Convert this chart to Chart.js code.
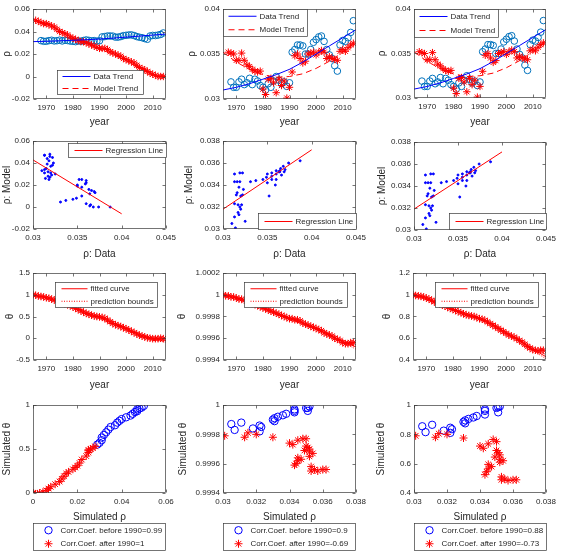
<!DOCTYPE html>
<html>
<head>
<meta charset="utf-8">
<script src="https://cdn.jsdelivr.net/npm/chart.js@4.4.1/dist/chart.umd.min.js"></script>
<style>
html, body { margin: 0; padding: 0; background: #fff; }
#fig { position: relative; width: 562px; height: 551px; overflow: hidden; background: #fff; }
#fig canvas { position: absolute; }
</style>
</head>
<body>
<div id="fig"></div>
<script>
// ---- data ----
const YEARS = [1965,1966,1967,1968,1969,1970,1971,1972,1973,1974,1975,1976,1977,1978,1979,1980,1981,1982,1983,1984,
  1985,1986,1987,1988,1989,1990,1991,1992,1993,1994,1995,1996,1997,1998,1999,2000,2001,2002,2003,2004,
  2005,2006,2007,2008,2009,2010,2011,2012,2013,2014];
const RHO_DATA = [null,null,null,0.0319,0.0313,0.0313,0.0319,0.0322,0.0316,0.0318,
  0.0323,0.0316,0.0322,0.0320,0.0315,0.0313,0.0310,0.0317,0.0313,0.0320,
  0.0325,0.0321,0.0317,0.0319,0.0314,0.0318,0.0352,0.0355,0.0360,0.0360,
  0.0359,0.0350,0.0350,0.0355,0.0363,0.0366,0.0369,0.0370,0.0364,0.0355,
  0.0349,0.0345,0.0337,0.0331,0.0360,0.0365,0.0364,0.0368,0.0374,0.0387];
const RHO_MODEL1 = [null,0.050,0.049,0.048,0.047,0.047,0.046,0.045,0.044,0.042,
  0.040,0.039,0.038,0.037,0.035,0.034,0.033,0.032,0.031,0.031,
  0.030,0.029,0.028,0.027,0.026,0.025,0.025,0.025,0.024,0.022,
  0.021,0.020,0.019,0.018,0.016,0.015,0.014,0.013,0.012,0.010,
  0.008,0.007,0.006,0.0045,0.003,0.002,0.001,0.000,0.000,0.000];
const RHO_MODEL2 = [null,null,0.0352,0.0351,0.0350,0.0343,0.0343,0.0351,0.0343,0.0338,
  0.0336,0.0333,0.0331,0.0330,0.0331,0.0311,0.0305,0.0322,0.0323,0.0318,
  0.0307,0.0322,0.0315,0.0320,0.0301,0.0313,0.0330,0.0348,0.0350,0.0345,
  0.0340,0.0342,0.0350,0.0351,0.0352,0.0349,0.0352,0.0354,0.0352,0.0345,
  0.0347,0.0345,0.0344,0.0343,0.0353,0.0355,0.0353,0.0357,0.0360,0.0362];
const THETA1 = [1.00,0.99,0.97,0.96,0.95,0.93,0.92,0.90,0.88,0.86,
  0.84,0.82,0.80,0.77,0.75,0.72,0.69,0.66,0.63,0.60,
  0.57,0.55,0.53,0.51,0.50,0.49,0.48,0.46,0.42,0.38,
  0.34,0.31,0.29,0.27,0.24,0.22,0.19,0.16,0.13,0.10,
  0.07,0.05,0.03,0.01,0.00,-0.01,-0.01,-0.01,0.00,-0.01];
const THETA2 = [1.00000,0.99999,0.99999,0.99998,0.99998,0.99997,0.99996,0.99996,0.99995,0.99994,
  0.99993,0.99992,0.99991,0.99990,0.99989,0.99988,0.99987,0.99986,0.99985,0.99984,
  0.99983,0.99982,0.99981,0.99980,0.99979,0.99978,0.99978,0.99977,0.99977,0.99976,
  0.99974,0.99973,0.99972,0.99971,0.99970,0.99969,0.99968,0.99967,0.99965,0.99964,
  0.99963,0.99962,0.99960,0.99959,0.99958,0.99956,0.99955,0.99955,0.99956,0.99956];
const THETA3 = [1.000,0.993,0.990,0.985,0.980,0.970,0.960,0.950,0.935,0.925,
  0.915,0.905,0.895,0.885,0.875,0.865,0.855,0.845,0.835,0.825,
  0.815,0.810,0.805,0.800,0.790,0.780,0.775,0.765,0.750,0.735,
  0.720,0.705,0.690,0.675,0.660,0.645,0.630,0.620,0.610,0.595,
  0.580,0.565,0.545,0.525,0.510,0.495,0.490,0.485,0.490,0.490];
const SPLIT_YEAR = 1987;

const TREND_YEARS = [1965,1970,1975,1980,1985,1990,1995,2000,2005,2010,2015];
const DATA_TREND = [0.0310,0.0313,0.0317,0.0322,0.0327,0.0333,0.0341,0.0350,0.0359,0.0368,0.0377];
const MODEL_TREND1 = [0.051,0.047,0.041,0.035,0.030,0.025,0.020,0.014,0.008,0.002,0.000];
const MODEL_TREND2 = [0.0352,0.0341,0.0333,0.0327,0.0324,0.0325,0.0328,0.0334,0.0342,0.0352,0.0363];

const FIT1 = [1.00,0.93,0.84,0.72,0.59,0.48,0.36,0.22,0.08,-0.01,-0.05];
const FIT1_LO = [0.97,0.90,0.81,0.69,0.56,0.45,0.33,0.19,0.05,-0.04,-0.09];
const FIT1_HI = [1.03,0.96,0.87,0.75,0.62,0.51,0.39,0.25,0.11,0.02,-0.01];
const FIT2 = [1.00000,0.99997,0.99993,0.99988,0.99983,0.99978,0.99974,0.99969,0.99963,0.99957,0.99952];
const FIT2_LO = [0.99999,0.99996,0.99992,0.99987,0.99982,0.99977,0.99973,0.99968,0.99962,0.99956,0.99950];
const FIT2_HI = [1.00001,0.99998,0.99994,0.99989,0.99984,0.99979,0.99975,0.99970,0.99964,0.99958,0.99954];
const FIT3 = [1.00,0.965,0.915,0.865,0.82,0.78,0.725,0.65,0.58,0.50,0.43];
const FIT3_LO = [0.99,0.955,0.905,0.855,0.81,0.77,0.715,0.64,0.57,0.49,0.41];
const FIT3_HI = [1.01,0.975,0.925,0.875,0.83,0.79,0.735,0.66,0.59,0.51,0.45];

const REG_X = [0.03, 0.04];
const REG1_Y = [0.0428, -0.0062];
const REG2_Y = [0.0318, 0.0372];
const REG3_Y = [0.0319, 0.0371];

const YEAR_TICKS = [1970, 1980, 1990, 2000, 2010];
const RHO1_TICKS = [-0.02, 0, 0.02, 0.04, 0.06];
const RHO2_TICKS = [0.03, 0.035, 0.04];
const RHO_DATA_TICKS = [0.03, 0.035, 0.04, 0.045];
const RHO_MODEL2_TICKS = [0.03, 0.032, 0.034, 0.036, 0.038];
const THETA1_TICKS = [-0.5, 0, 0.5, 1, 1.5];
const THETA2_TICKS = [0.9994, 0.9996, 0.9998, 1, 1.0002];
const THETA3_TICKS = [0.4, 0.6, 0.8, 1, 1.2];
const SIM_RHO1_TICKS = [0, 0.02, 0.04, 0.06];
const SIM_THETA1_TICKS = [0, 0.5, 1];
const SIM_THETA2_TICKS = [0.9994, 0.9996, 0.9998, 1];
const SIM_THETA3_TICKS = [0.4, 0.6, 0.8, 1];

// ---- helpers ----
const FONT = '"Liberation Sans", Arial, Helvetica, sans-serif';
const INK = '#262626';
const fmt = v => String(parseFloat(Number(v).toFixed(6)));

function pts(xs, ys, keep) {
  const out = [];
  for (let i = 0; i < xs.length; i++) {
    if (xs[i] == null || ys[i] == null) continue;
    if (keep && !keep(i)) continue;
    out.push({x: xs[i], y: ys[i]});
  }
  return out;
}
const before = i => YEARS[i] < SPLIT_YEAR;
const after = i => YEARS[i] >= SPLIT_YEAR;

function marks(label, data, style, color, r, order, filled) {
  return { label, data, showLine: false, pointStyle: style, pointRadius: r, pointHoverRadius: r,
    pointBorderColor: color, pointBorderWidth: 1,
    pointBackgroundColor: filled ? color : 'rgba(0,0,0,0)', order };
}
function line(label, data, color, dash, order) {
  return { label, data, showLine: true, pointRadius: 0, borderColor: color, borderWidth: 1,
    borderDash: dash || [], fill: false, tension: 0, order };
}

function drawMarker(ctx, style, x, y, r, color, filled) {
  ctx.strokeStyle = color; ctx.lineWidth = 1;
  ctx.beginPath();
  if (style === 'star') {
    const d = r * Math.SQRT1_2;
    ctx.moveTo(x - r, y); ctx.lineTo(x + r, y);
    ctx.moveTo(x, y - r); ctx.lineTo(x, y + r);
    ctx.moveTo(x - d, y - d); ctx.lineTo(x + d, y + d);
    ctx.moveTo(x - d, y + d); ctx.lineTo(x + d, y - d);
    ctx.stroke();
  } else {
    ctx.arc(x, y, r, 0, Math.PI * 2);
    if (filled) { ctx.fillStyle = color; ctx.fill(); }
    ctx.stroke();
  }
}

// axes box with inward ticks on all four sides
const boxPlugin = {
  id: 'mbox',
  afterDraw(chart) {
    const {ctx, chartArea: a, scales} = chart;
    const L = Math.round(a.left) + 0.5, R = Math.round(a.right) - 0.5;
    const T = Math.round(a.top) + 0.5, B = Math.round(a.bottom) - 0.5;
    ctx.save();
    ctx.strokeStyle = '#3a3a3a'; ctx.lineWidth = 0.7;
    ctx.strokeRect(L, T, R - L, B - T);
    ctx.beginPath();
    scales.x.ticks.forEach(t => {
      const px = Math.round(scales.x.getPixelForValue(t.value)) + 0.5;
      ctx.moveTo(px, B); ctx.lineTo(px, B - 3);
      ctx.moveTo(px, T); ctx.lineTo(px, T + 3);
    });
    scales.y.ticks.forEach(t => {
      const py = Math.round(scales.y.getPixelForValue(t.value)) + 0.5;
      ctx.moveTo(L, py); ctx.lineTo(L + 3, py);
      ctx.moveTo(R, py); ctx.lineTo(R - 3, py);
    });
    ctx.stroke();
    ctx.restore();
  }
};

// MATLAB-like boxed legend
const legendPlugin = {
  id: 'mlegend',
  afterDraw(chart, args, o) {
    if (!o || !o.items) return;
    const ctx = chart.ctx, a = chart.chartArea;
    const bx = Math.round(a.left + o.box[0]) + 0.5, by = Math.round(a.top + o.box[1]) + 0.5;
    const bw = o.box[2], bh = o.box[3];
    ctx.save();
    ctx.fillStyle = '#fff'; ctx.fillRect(bx, by, bw, bh);
    ctx.strokeStyle = '#3a3a3a'; ctx.lineWidth = 0.7; ctx.strokeRect(bx, by, bw, bh);
    const n = o.items.length;
    o.items.forEach((idx, i) => {
      const ds = chart.data.datasets[idx];
      const cy = by + bh * (i + 0.5) / n;
      if (ds.showLine) {
        ctx.save();
        ctx.strokeStyle = ds.borderColor; ctx.lineWidth = ds.borderWidth;
        ctx.setLineDash(ds.borderDash || []);
        ctx.beginPath(); ctx.moveTo(bx + o.sample[0], cy); ctx.lineTo(bx + o.sample[1], cy); ctx.stroke();
        ctx.restore();
      } else {
        drawMarker(ctx, ds.pointStyle, bx + (o.sample[0] + o.sample[1]) / 2, cy, ds.pointRadius,
          ds.pointBorderColor, ds.pointBackgroundColor !== 'rgba(0,0,0,0)');
      }
      ctx.fillStyle = INK; ctx.font = o.size + 'px ' + FONT;
      ctx.textBaseline = 'middle'; ctx.textAlign = 'left';
      ctx.fillText(ds.label, bx + o.text, cy + 0.5);
    });
    ctx.restore();
  }
};

function axis(range, ticks, title, fixed, isX) {
  return {
    type: 'linear', min: range[0], max: range[1],
    grid: { display: false, drawTicks: false }, border: { display: false },
    ticks: { color: INK, font: { family: FONT, size: 8 }, padding: isX ? 4 : 3, autoSkip: false,
      maxRotation: 0, minRotation: 0, callback: v => fmt(v) },
    title: { display: true, text: title, color: INK, padding: 0, font: { family: FONT, size: 10 } },
    afterBuildTicks: s => { s.ticks = ticks.map(v => ({ value: v })); },
    afterFit: s => {
      if (isX) { s.height = fixed; s.paddingLeft = 0; s.paddingRight = 0; }
      else { s.width = fixed; s.paddingTop = 0; s.paddingBottom = 0; }
    }
  };
}

function panel(cfg) {
  const [l, t, r, b] = cfg.plot;
  const T = 8, R = 16, PB = cfg.below || 0;
  const Lw = l - (cfg.yTitleX - 6);
  const Bh = cfg.xTitleY + 6 - b;
  const W = Lw + (r - l) + R, H = T + (b - t) + Bh + PB;
  const cv = document.createElement('canvas');
  cv.width = W; cv.height = H;
  cv.style.left = (l - Lw) + 'px'; cv.style.top = (t - T) + 'px';
  cv.style.width = W + 'px'; cv.style.height = H + 'px';
  document.getElementById('fig').appendChild(cv);
  new Chart(cv, {
    type: 'scatter',
    data: { datasets: cfg.datasets },
    options: {
      responsive: false, animation: false, events: [],
      layout: { padding: { left: 0, top: T, right: R, bottom: PB } },
      scales: {
        x: axis(cfg.xRange, cfg.xTicks, cfg.xTitle, Bh, true),
        y: axis(cfg.yRange, cfg.yTicks, cfg.yTitle, Lw, false)
      },
      plugins: { legend: { display: false }, tooltip: { enabled: false }, mlegend: cfg.legend }
    },
    plugins: [boxPlugin, legendPlugin]
  });
}

const BLUE = '#0000FF', MBLUE = '#0072BD', RED = '#FF0000';
const YR = [1965, 2015];

// ---- row 1: rho vs year ----
function trendPanel(plot, tx, model, modelTrend, yRange, yTicks, legendBox) {
  panel({ plot, yTitleX: tx, xTitleY: 122, xRange: YR, xTicks: YEAR_TICKS, yRange, yTicks,
    xTitle: 'year', yTitle: 'ρ',
    datasets: [
      line('Data Trend', pts(TREND_YEARS, DATA_TREND), BLUE, [], 1),
      line('Model Trend', pts(TREND_YEARS, modelTrend), RED, [6, 4], 2),
      marks('data', pts(YEARS, RHO_DATA), 'circle', MBLUE, 3.3, 4),
      marks('model', pts(YEARS, model), 'star', RED, 3.7, 3)
    ],
    legend: { items: [0, 1], box: legendBox, sample: [5, 33], text: 36, size: 8 } });
}
trendPanel([33, 9, 166, 99], 7, RHO_MODEL1, MODEL_TREND1, [-0.02, 0.06], RHO1_TICKS, [24, 61, 86, 24]);
trendPanel([223, 9, 356, 99], 192, RHO_MODEL2, MODEL_TREND2, [0.03, 0.04], RHO2_TICKS, [0, 0, 84, 27]);
trendPanel([414, 9, 546, 98], 382, RHO_MODEL2, MODEL_TREND2, [0.03, 0.04], RHO2_TICKS, [0, 0, 84, 28]);

// ---- row 2: model vs data ----
function regPanel(plot, tx, model, regY, yRange, yTicks, legendBox) {
  panel({ plot, yTitleX: tx, xTitleY: 254, xRange: [0.03, 0.045], xTicks: RHO_DATA_TICKS, yRange, yTicks,
    xTitle: 'ρ: Data', yTitle: 'ρ: Model',
    datasets: [
      marks('points', pts(RHO_DATA, model), 'circle', BLUE, 1, 2, true),
      line('Regression Line', pts(REG_X, regY), RED, [], 1)
    ],
    legend: { items: [1], box: legendBox, sample: [6, 34], text: 37, size: 8 } });
}
regPanel([33, 141, 166, 229], 7, RHO_MODEL1, REG1_Y, [-0.02, 0.06], RHO1_TICKS, [35, 2, 98, 14]);
regPanel([223, 141, 356, 229], 189, RHO_MODEL2, REG2_Y, [0.03, 0.038], RHO_MODEL2_TICKS, [35, 72, 98, 16]);
regPanel([414, 142, 546, 230], 382, RHO_MODEL2, REG3_Y, [0.03, 0.038], RHO_MODEL2_TICKS, [35, 71, 97, 16]);

// ---- row 3: theta vs year ----
function thetaPanel(plot, tx, theta, fit, lo, hi, yRange, yTicks, legendBox) {
  panel({ plot, yTitleX: tx, xTitleY: 385, xRange: YR, xTicks: YEAR_TICKS, yRange, yTicks,
    xTitle: 'year', yTitle: 'θ',
    datasets: [
      line('fitted curve', pts(TREND_YEARS, fit), RED, [], 2),
      line('prediction bounds', pts(TREND_YEARS, lo), RED, [1, 1.5], 3),
      line('prediction bounds', pts(TREND_YEARS, hi), RED, [1, 1.5], 3),
      marks('theta', pts(YEARS, theta), 'star', RED, 3.8, 1)
    ],
    legend: { items: [0, 1], box: legendBox, sample: [6, 32], text: 35, size: 8 } });
}
thetaPanel([33, 273, 166, 360], 10, THETA1, FIT1, FIT1_LO, FIT1_HI, [-0.5, 1.5], THETA1_TICKS, [22, 9, 102, 25]);
thetaPanel([223, 273, 356, 360], 182, THETA2, FIT2, FIT2_LO, FIT2_HI, [0.9994, 1.0002], THETA2_TICKS, [21, 9, 103, 25]);
thetaPanel([413, 273, 546, 360], 387, THETA3, FIT3, FIT3_LO, FIT3_HI, [0.4, 1.2], THETA3_TICKS, [22, 9, 103, 25]);

// ---- row 4: simulated theta vs simulated rho ----
function simPanel(plot, tx, model, theta, xRange, xTicks, yRange, yTicks, labels) {
  panel({ plot, yTitleX: tx, xTitleY: 517, xRange, xTicks, yRange, yTicks, below: 551 - 523,
    xTitle: 'Simulated ρ', yTitle: 'Simulated θ',
    datasets: [
      marks(labels[0], pts(model, theta, before), 'circle', BLUE, 3.7, 2),
      marks(labels[1], pts(model, theta, after), 'star', RED, 4, 1)
    ],
    legend: { items: [0, 1], box: [0, 118, 132, 27], sample: [10, 20], text: 27, size: 8 } });
}
simPanel([33, 405, 166, 493], 7, RHO_MODEL1, THETA1, [0, 0.06], SIM_RHO1_TICKS, [0, 1], SIM_THETA1_TICKS,
  ['Corr.Coef. before 1990=0.99', 'Corr.Coef. after 1990=1']);
simPanel([223, 405, 356, 493], 183, RHO_MODEL2, THETA2, [0.03, 0.038], RHO_MODEL2_TICKS, [0.9994, 1], SIM_THETA2_TICKS,
  ['Corr.Coef. before 1990=0.9', 'Corr.Coef. after 1990=-0.69']);
simPanel([414, 405, 546, 493], 381, RHO_MODEL2, THETA3, [0.03, 0.038], RHO_MODEL2_TICKS, [0.4, 1], SIM_THETA3_TICKS,
  ['Corr.Coef. before 1990=0.88', 'Corr.Coef. after 1990=-0.73']);
</script>
</body>
</html>
